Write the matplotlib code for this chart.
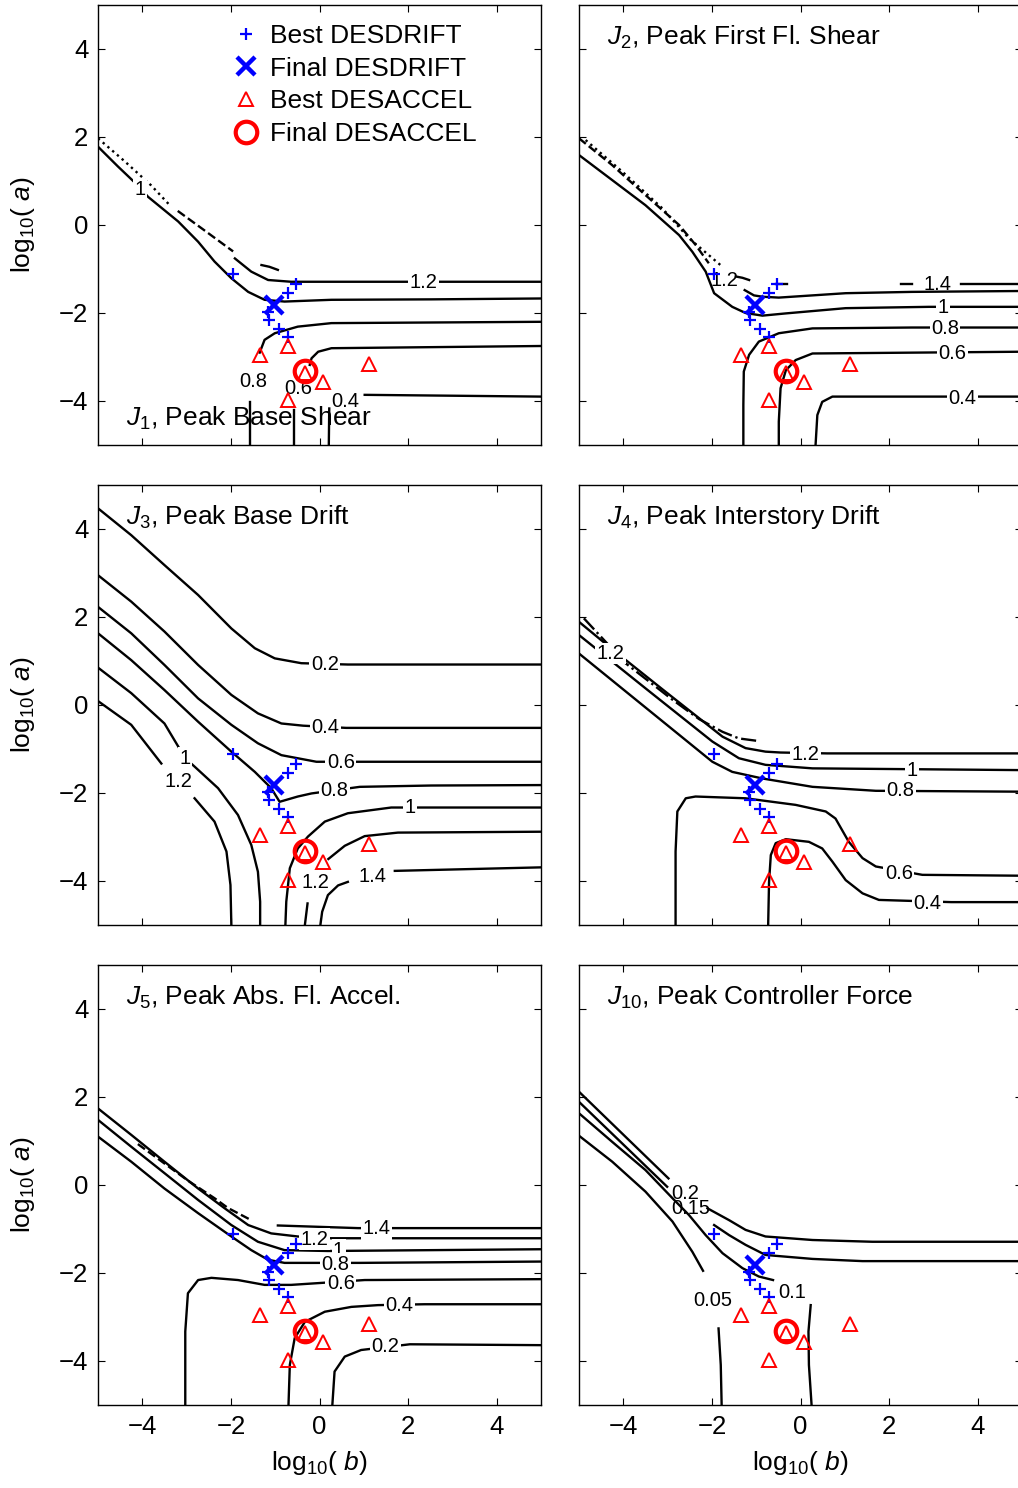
import matplotlib
matplotlib.use('Agg')
import matplotlib.pyplot as plt

plt.rcParams['font.family'] = ['Liberation Sans', 'DejaVu Sans']
plt.rcParams['mathtext.fontset'] = 'custom'
plt.rcParams['mathtext.rm'] = 'Liberation Sans'
plt.rcParams['mathtext.it'] = 'Liberation Sans:italic'
plt.rcParams['mathtext.bf'] = 'Liberation Sans:bold'

# ---------------- design points (log10 b, log10 a) ----------------
best_drift_b = [-1.95, -0.52, -0.72, -1.16, -1.14, -0.92, -0.72]
best_drift_a = [-1.12, -1.33, -1.54, -1.97, -2.16, -2.36, -2.55]
final_drift_b = [-1.03]
final_drift_a = [-1.82]
best_accel_b = [-1.34, -0.72, -0.32, 0.09, -0.72, 1.12]
best_accel_a = [-2.95, -2.75, -3.36, -3.56, -3.98, -3.16]
final_accel_b = [-0.32]
final_accel_a = [-3.31]

ticks = [-4, -2, 0, 2, 4]

# ---------------- contour lines ----------------
# each piece: (style, [(log10 b, log10 a), ...]);  labels: (text, b, a, masked)
J1_pieces = [
    ('-', [(-5, 1.78), (-4.55, 1.33), (-4.06, 0.86), (-3.87, 0.64), (-3.19, 0.08), (-2.74, -0.38),
           (-2.37, -0.83), (-1.99, -1.21), (-1.61, -1.52), (-1.24, -1.70), (-0.79, -1.74),
           (0.27, -1.70), (2.52, -1.69), (5, -1.67)]),
    (':', [(-5, 1.97), (-4.4, 1.45), (-3.8, 0.9), (-3.38, 0.45)]),
    ('--', [(-3.2, 0.32), (-2.6, -0.12), (-1.95, -0.6)]),
    ('-', [(-1.91, -0.76), (-1.54, -1.06), (-1.16, -1.25), (-0.64, -1.29), (1.77, -1.29), (5, -1.29)]),
    ('-', [(-1.31, -0.91), (-1.13, -0.95), (-0.94, -1.02)]),
    ('-', [(5, -2.2), (0.27, -2.23), (-0.49, -2.31), (-1.01, -2.46), (-1.24, -2.61), (-1.35, -2.9)]),
    ('-', [(-1.58, -4.02), (-1.58, -5)]),
    ('-', [(5, -2.75), (0.27, -2.8), (-0.03, -2.88), (-0.18, -3.03), (-0.22, -3.18)]),
    ('-', [(-0.58, -4.2), (-0.58, -5)]),
    ('-', [(5, -3.9), (1.02, -3.86)]),
    ('-', [(0.22, -4.17), (0.21, -5)]),
]
J1_labels = [('1', -4.06, 0.80, True), ('1.2', 2.34, -1.31, True), ('0.8', -1.5, -3.55, False),
             ('0.6', -0.47, -3.71, False), ('0.4', 0.58, -4.01, False)]

J2_pieces = [
    (':', [(-4.85, 1.93), (-4.02, 1.21), (-3.12, 0.38), (-2.52, -0.30), (-1.76, -0.95)]),
    ('--', [(-5, 1.97), (-4.25, 1.36), (-3.5, 0.68), (-2.74, 0.0), (-2.37, -0.45), (-2.07, -0.87)]),
    ('-', [(-1.46, -1.17), (-1.31, -1.2), (-1.16, -1.25)]),
    ('-', [(-1.26, -1.48), (-1.05, -1.6), (-0.86, -1.63), (-0.49, -1.65), (1.02, -1.55), (2.52, -1.52), (5, -1.5)]),
    ('-', [(-0.56, -1.33), (-0.3, -1.33)]),
    ('-', [(2.26, -1.33), (2.52, -1.33)]),
    ('-', [(3.62, -1.33), (5, -1.33)]),
    ('-', [(-5, 1.59), (-4.25, 1.02), (-3.5, 0.45), (-2.74, -0.23), (-2.44, -0.61), (-2.14, -1.06),
           (-1.95, -1.55), (-1.54, -1.86), (-1.24, -2.0), (-0.86, -2.06), (-0.34, -2.01),
           (1.02, -1.89), (2.9, -1.86), (5, -1.86)]),
    ('-', [(5, -2.33), (2.52, -2.33), (0.27, -2.35), (-0.49, -2.46), (-0.94, -2.65), (-1.16, -2.95),
           (-1.28, -3.33), (-1.29, -4.09), (-1.29, -5)]),
    ('-', [(5, -2.88), (0.27, -2.92), (-0.11, -3.07), (-0.33, -3.3), (-0.45, -3.71), (-0.49, -4.47), (-0.49, -5)]),
    ('-', [(5, -3.9), (0.72, -3.9), (0.49, -4.02), (0.38, -4.32), (0.34, -5)]),
]
J2_labels = [('1.2', -1.72, -1.25, False), ('1.4', 3.09, -1.36, False), ('1', 3.22, -1.87, True),
             ('0.8', 3.26, -2.35, True), ('0.6', 3.43, -2.92, True), ('0.4', 3.65, -3.94, True)]

J3_pieces = [
    ('-', [(-5, 4.47), (-4.25, 3.86), (-3.5, 3.18), (-2.74, 2.5), (-1.99, 1.74), (-1.46, 1.29),
           (-1.01, 1.06), (-0.41, 0.95), (0.64, 0.92), (5, 0.92)]),
    ('-', [(-5, 2.95), (-4.25, 2.35), (-3.5, 1.67), (-2.74, 0.91), (-1.99, 0.23), (-1.39, -0.19),
           (-0.86, -0.42), (-0.37, -0.47), (0.6, -0.52), (5, -0.52)]),
    ('-', [(-5, 2.23), (-4.25, 1.63), (-3.5, 0.91), (-2.74, 0.15), (-1.99, -0.45), (-1.39, -0.87),
           (-0.86, -1.14), (-0.07, -1.29), (5, -1.29)]),
    ('-', [(-5, 1.63), (-4.25, 1.02), (-3.5, 0.34), (-2.74, -0.38), (-1.99, -1.06), (-1.46, -1.52),
           (-1.09, -1.89), (-0.9, -2.2), (-0.49, -2.08), (-0.18, -2.01), (0.91, -1.86), (2.52, -1.83), (5, -1.82)]),
    ('-', [(-5, 0.85), (-4.25, 0.27), (-3.5, -0.42), (-3.03, -1.21), (-2.82, -1.4), (-2.29, -1.89),
           (-1.84, -2.5), (-1.54, -3.18), (-1.39, -3.79), (-1.34, -4.47), (-1.34, -5)]),
    ('-', [(5, -2.33), (1.62, -2.33), (0.64, -2.46), (0.12, -2.65), (-0.26, -2.99), (-0.49, -3.26),
           (-0.67, -3.71), (-0.75, -4.47), (-0.77, -5)]),
    ('-', [(-5, 0.09), (-4.25, -0.45), (-3.57, -1.33)]),
    ('-', [(-2.82, -2.12), (-2.37, -2.65), (-2.1, -3.33), (-2.01, -4.09), (-1.99, -5)]),
    ('-', [(5, -2.88), (1.77, -2.9), (1.02, -2.98), (0.57, -3.2), (0.2, -3.5)]),
    ('-', [(-0.27, -4.51), (-0.33, -5)]),
    ('-', [(5, -3.69), (1.7, -3.77)]),
    ('-', [(0.64, -4.02), (0.42, -4.1), (0.19, -4.32), (0.06, -4.7), (0.02, -5)]),
]
J3_labels = [('0.2', 0.12, 0.92, True), ('0.4', 0.13, -0.52, True), ('0.6', 0.48, -1.31, True),
             ('0.8', 0.34, -1.95, True), ('1', -3.03, -1.21, True), ('1', 2.04, -2.33, True),
             ('1.2', -3.19, -1.73, False), ('1.2', -0.09, -4.03, False), ('1.4', 1.19, -3.9, False)]

J4_pieces = [
    ('-.', [(-4.89, 1.97), (-3.95, 0.95), (-2.89, 0.12), (-2.29, -0.32), (-1.76, -0.61), (-1.39, -0.76), (-0.94, -0.82)]),
    ('-', [(-5, 1.89), (-4.29, 1.3), (-3.12, 0.36), (-1.76, -0.72), (-1.24, -0.98), (-0.79, -1.06),
           (-0.45, -1.08), (0.6, -1.1), (5, -1.1)]),
    ('-', [(-5, 1.59), (-3.5, 0.38), (-1.99, -0.83), (-1.39, -1.21), (-0.79, -1.36), (0.27, -1.44), (5, -1.48)]),
    ('-', [(-5, 1.17), (-1.99, -1.29), (-1.54, -1.52), (-0.86, -1.67), (0.27, -1.86), (1.7, -1.95), (5, -1.97)]),
    ('-', [(-2.82, -5), (-2.82, -3.33), (-2.78, -2.42), (-2.59, -2.12), (-2.37, -2.08), (-1.24, -2.12),
           (-0.11, -2.27), (0.57, -2.42), (0.79, -2.58), (1.09, -3.11), (1.4, -3.48), (1.7, -3.67),
           (2.75, -3.86), (5, -3.88)]),
    ('-', [(-0.73, -5), (-0.71, -4.02), (-0.67, -3.41), (-0.56, -3.14), (-0.33, -3.05), (0.19, -3.11),
           (0.49, -3.26), (0.72, -3.56), (1.02, -3.98), (1.4, -4.28), (1.77, -4.43), (3.4, -4.48), (5, -4.48)]),
]
J4_labels = [('1.2', -4.29, 1.17, True), ('1.2', 0.12, -1.12, True), ('1', 2.52, -1.49, True),
             ('0.8', 2.25, -1.95, True), ('0.6', 2.22, -3.83, True), ('0.4', 2.86, -4.51, True)]

J5_pieces = [
    ('--', [(-4.1, 0.93), (-2.97, 0.1), (-2.37, -0.3), (-2.07, -0.52), (-1.54, -0.8)]),
    ('-', [(-0.94, -0.92), (0.87, -0.98), (5, -0.98)]),
    ('-', [(-5, 1.74), (-4.25, 1.14), (-3.5, 0.53), (-2.74, -0.08), (-2.14, -0.53), (-1.61, -0.91),
           (-1.09, -1.1), (-0.49, -1.17), (0.19, -1.21), (5, -1.21)]),
    ('-', [(-5, 1.48), (-4.25, 0.87), (-3.5, 0.27), (-2.74, -0.34), (-1.99, -0.91), (-1.39, -1.29),
           (-0.79, -1.48), (0.19, -1.5), (5, -1.46)]),
    ('-', [(-5, 1.1), (-4.25, 0.53), (-3.5, -0.08), (-2.74, -0.64), (-1.99, -1.17), (-1.54, -1.48),
           (-1.16, -1.7), (-0.79, -1.77), (-0.18, -1.77), (0.91, -1.77), (5, -1.74)]),
    ('-', [(-3.03, -5), (-3.03, -3.33), (-2.97, -2.46), (-2.74, -2.16), (-2.44, -2.11), (-1.84, -2.16),
           (-1.24, -2.27), (-0.64, -2.27), (-0.03, -2.23), (1.02, -2.16), (5, -2.14)]),
    ('-', [(-0.7, -5), (-0.67, -4.09), (-0.56, -3.48), (-0.33, -3.11), (0.12, -2.88), (0.72, -2.77),
           (1.32, -2.73), (2.37, -2.71), (5, -2.71)]),
    ('-', [(0.29, -5), (0.34, -4.24), (0.57, -3.9), (0.94, -3.75), (2.04, -3.62), (5, -3.64)]),
]
J5_labels = [('1.4', 1.28, -1.0, True), ('1.2', -0.11, -1.23, True), ('1', 0.43, -1.48, True),
             ('0.8', 0.36, -1.8, True), ('0.6', 0.48, -2.23, True), ('0.4', 1.81, -2.73, True),
             ('0.2', 1.49, -3.66, True)]

J10_pieces = [
    ('-', [(-5, 2.12), (-2.98, 0.15)]),
    ('-', [(-2.1, -0.53), (-1.61, -0.8), (-1.24, -1.02), (-0.79, -1.17), (0.27, -1.25), (1.62, -1.29), (5, -1.29)]),
    ('-', [(-5, 1.89), (-3.01, -0.04)]),
    ('-', [(-1.95, -0.91), (-1.61, -1.14), (-1.24, -1.36), (-0.79, -1.59), (0.27, -1.68), (1.4, -1.73), (5, -1.73)]),
    ('-', [(-5, 1.63), (-4.25, 0.98), (-3.5, 0.34), (-2.89, -0.3), (-2.52, -0.68), (-2.14, -1.14),
           (-1.76, -1.55), (-1.31, -1.89), (-0.94, -2.08), (-0.62, -2.16)]),
    ('-', [(0.23, -2.73), (0.18, -3.33), (0.19, -4.09), (0.25, -5)]),
    ('-', [(-5, 1.12), (-4.25, 0.53), (-3.5, -0.15), (-2.89, -0.83), (-2.44, -1.52), (-2.2, -1.95)]),
    ('-', [(-1.85, -3.26), (-1.8, -4.09), (-1.78, -5)]),
]
J10_labels = [('0.2', -2.6, -0.2, False), ('0.15', -2.48, -0.53, False), ('0.1', -0.18, -2.44, False),
              ('0.05', -1.99, -2.63, False)]

panels = [
    (r'$J_{1}$, Peak Base Shear', J1_pieces, J1_labels),
    (r'$J_{2}$, Peak First Fl. Shear', J2_pieces, J2_labels),
    (r'$J_{3}$, Peak Base Drift', J3_pieces, J3_labels),
    (r'$J_{4}$, Peak Interstory Drift', J4_pieces, J4_labels),
    (r'$J_{5}$, Peak Abs. Fl. Accel.', J5_pieces, J5_labels),
    (r'$J_{10}$, Peak Controller Force', J10_pieces, J10_labels),
]

W, H = 1018, 1488
fig = plt.figure(figsize=(W / 100, H / 100), dpi=100)
col_x = [98, 579]
row_y = [5, 485, 965]
aw, ah = 443, 440

for i, (title, pieces, labels) in enumerate(panels):
    r, c = divmod(i, 2)
    ax = fig.add_axes([col_x[c] / W, 1 - (row_y[r] + ah) / H, aw / W, ah / H])
    for style, pts in pieces:
        xs = [p[0] for p in pts]
        ys = [p[1] for p in pts]
        ax.plot(xs, ys, color='black', lw=1.7, linestyle=style, zorder=2)
    for txt, lx, ly, masked in labels:
        kw = dict(bbox=dict(facecolor='white', edgecolor='none', pad=1.0)) if masked else {}
        ax.text(lx, ly, txt, fontsize=14.5, ha='center', va='center', zorder=3, **kw)
    h1, = ax.plot(best_drift_b, best_drift_a, ls='none', marker='+', ms=9, mew=1.6, color='blue', zorder=4)
    h2, = ax.plot(final_drift_b, final_drift_a, ls='none', marker='x', ms=13, mew=3.2, color='blue', zorder=4)
    h3, = ax.plot(best_accel_b, best_accel_a, ls='none', marker='^', ms=10.5, mew=1.4, mfc='none', color='red', zorder=4)
    h4, = ax.plot(final_accel_b, final_accel_a, ls='none', marker='o', ms=15.5, mew=3, mfc='none', color='red', zorder=4)

    ax.set_xlim(-5, 5)
    ax.set_ylim(-5, 5)
    ax.set_xticks(ticks)
    ax.set_yticks(ticks)
    ax.tick_params(direction='in', top=True, right=True, length=5, width=0.8, labelsize=18.5, pad=7)
    for sp in ax.spines.values():
        sp.set_linewidth(1.0)
    if c == 1:
        ax.set_yticklabels([])
    else:
        ax.set_ylabel(r'$\mathrm{log}_{10}(\ a)$', fontsize=19)
        ax.yaxis.set_label_coords(-0.138, 0.5)
    if r < 2:
        ax.set_xticklabels([])
    else:
        ax.set_xlabel(r'$\mathrm{log}_{10}(\ b)$', fontsize=19)
        ax.xaxis.set_label_coords(0.5, -0.099)

    ty = 0.061 if i == 0 else 0.927
    ax.text(0.063, ty, title, transform=ax.transAxes, fontsize=19, va='center', ha='left', zorder=5)

    if i == 0:
        ax.legend([h1, h2, h3, h4], ['Best DESDRIFT', 'Final DESDRIFT', 'Best DESACCEL', 'Final DESACCEL'],
                  loc='upper left', bbox_to_anchor=(0.305, 0.957), frameon=False, fontsize=19,
                  handlelength=1.0, handletextpad=0.4, labelspacing=0.33, borderpad=0.0,
                  borderaxespad=0.0, numpoints=1)

fig.savefig('out.png', dpi=100)
